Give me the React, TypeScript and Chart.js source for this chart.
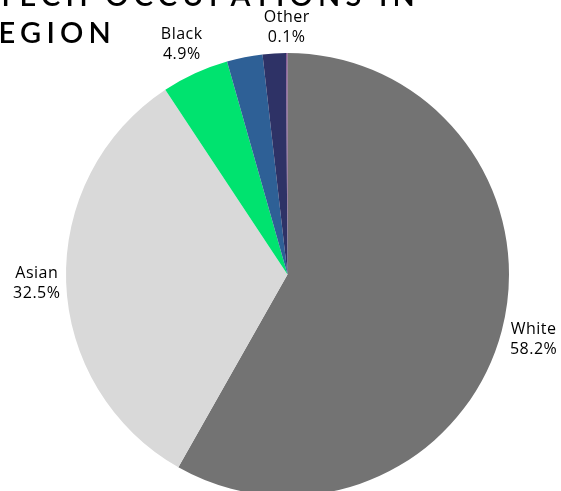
import React, { useEffect, useRef } from "react";
import { Chart, registerables } from "chart.js";

Chart.register(...registerables);

const titleLines = ["TECH OCCUPATIONS IN", "REGION"];
const categories = ["White", "Asian", "Black", "Hispanic", "Two or More", "Other"];
const shares = [58.2, 32.5, 4.9, 2.6, 1.7, 0.1];
const labelShown = [true, true, true, false, false, true];
const sliceColors = ["#737373", "#d9d9d9", "#00e36f", "#2e6096", "#2e3266", "#7a4a8a"];

const labelPlugin = {
  id: "outerLabels",
  afterDatasetsDraw(chart: any) {
    const ctx = chart.ctx;
    const meta = chart.getDatasetMeta(0);
    const fontSize = 16;
    const lineH = 20;
    ctx.save();
    ctx.font = `500 ${fontSize}px "Open Sans", Lato, sans-serif`;
    try {
      (ctx as any).letterSpacing = "0.5px";
    } catch (e) {}
    ctx.fillStyle = "#000";
    ctx.textAlign = "center";
    ctx.textBaseline = "middle";
    meta.data.forEach((arc: any, i: number) => {
      if (!labelShown[i]) return;
      const p = arc.getProps(["x", "y", "startAngle", "endAngle", "outerRadius"], true);
      const mid = (p.startAngle + p.endAngle) / 2;
      const dx = Math.cos(mid);
      const dy = Math.sin(mid);
      const lines = [categories[i], shares[i].toFixed(1) + "%"];
      const w = Math.max(...lines.map((l) => ctx.measureText(l).width));
      const h = lines.length * lineH;
      const dist = p.outerRadius + 5 + (w / 2) * Math.abs(dx) + (h / 2) * Math.abs(dy);
      const cx = p.x + dx * dist;
      const cy = p.y + dy * dist;
      lines.forEach((l, k) => {
        ctx.fillText(l, cx, cy - h / 2 + lineH / 2 + k * lineH);
      });
    });
    ctx.restore();
  },
};

export default function App() {
  const canvasRef = useRef<HTMLCanvasElement | null>(null);

  useEffect(() => {
    if (!canvasRef.current) return;
    const chart = new Chart(canvasRef.current, {
      type: "pie",
      data: {
        labels: categories,
        datasets: [
          {
            data: shares,
            backgroundColor: sliceColors,
            borderWidth: 0,
          },
        ],
      },
      options: {
        animation: false,
        responsive: true,
        maintainAspectRatio: false,
        layout: { padding: { left: 66, right: 52, top: 53, bottom: 64 } },
        plugins: {
          legend: { display: false },
          tooltip: { enabled: false },
          title: { display: false },
        },
      },
      plugins: [labelPlugin],
    });
    return () => chart.destroy();
  }, []);

  const titleStyle: React.CSSProperties = {
    position: "absolute",
    fontFamily: "Lato, 'Noto Sans', sans-serif",
    fontSize: 29,
    fontWeight: 600,
    lineHeight: "37px",
    letterSpacing: "5.2px",
    color: "#000",
    whiteSpace: "nowrap",
    zIndex: 2,
  };

  return (
    <div
      style={{
        position: "fixed",
        left: 0,
        top: 0,
        width: 561,
        height: 491,
        overflow: "hidden",
        background: "#fff",
      }}
    >
      <div style={{ position: "absolute", left: 0, top: 0, width: 561, height: 560 }}>
        <canvas ref={canvasRef} />
      </div>
      <div style={{ ...titleStyle, left: -3, top: -24 }}>{titleLines[0]}</div>
      <div style={{ ...titleStyle, left: -25, top: 13 }}>{titleLines[1]}</div>
    </div>
  );
}
